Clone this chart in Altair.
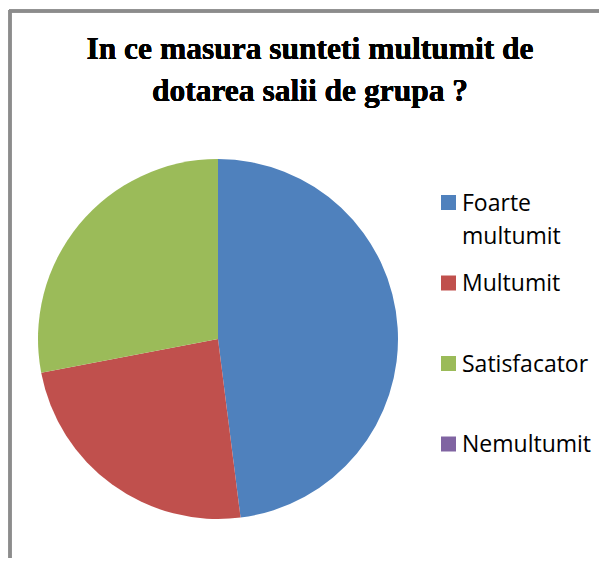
import altair as alt
import pandas as pd

categories = ["Foarte multumit", "Multumit", "Satisfacator", "Nemultumit"]
legend_labels = ["Foarte\nmultumit", "Multumit", "Satisfacator", "Nemultumit"]
values = [12, 6, 7, 0]
colors = ["#4F81BD", "#C0504D", "#9BBB59", "#8064A2"]
title_lines = ["In ce masura sunteti multumit de", "dotarea salii de grupa ?"]

df = pd.DataFrame({
    "cat": categories,
    "lab": legend_labels,
    "val": values,
    "ord": list(range(len(categories))),
})

W, H = 591, 550

color_scale = alt.Scale(domain=categories, range=colors)
legend_y = alt.Y(
    "cat:N",
    scale=alt.Scale(type="point", domain=categories, range=[194.5, 436], padding=0),
    axis=None,
)

pie = alt.Chart(df).mark_arc(outerRadius=180, stroke=None).encode(
    theta=alt.Theta("val:Q", stack=True),
    order=alt.Order("ord:Q"),
    color=alt.Color("cat:N", scale=color_scale, legend=None),
    x=alt.value(210),
    y=alt.value(331),
)

swatches = alt.Chart(df).mark_square(size=225, opacity=1, strokeWidth=0).encode(
    x=alt.value(440.5),
    y=legend_y,
    color=alt.Color("cat:N", scale=color_scale, legend=None),
)

labels = alt.Chart(df).mark_text(
    font="Open Sans",
    fontSize=23,
    color="#000000",
    align="left",
    baseline="alphabetic",
    dy=8,
    lineBreak="\n",
    lineHeight=33.5,
).encode(
    x=alt.value(454),
    y=legend_y,
    text="lab:N",
)

title = alt.Chart(df).mark_text(
    font="Liberation Serif",
    fontSize=31.5,
    fontWeight="bold",
    color="#000000",
    align="center",
    baseline="alphabetic",
    lineHeight=42,
).encode(
    text=alt.value(title_lines),
    x=alt.value(302),
    y=alt.value(51),
)

frame_top = alt.Chart(df).mark_rule(color="#8c8c8c", strokeWidth=3).encode(
    x=alt.value(1), x2=alt.value(W), y=alt.value(3)
)
frame_left = alt.Chart(df).mark_rule(color="#8c8c8c", strokeWidth=3).encode(
    x=alt.value(2), y=alt.value(2), y2=alt.value(H)
)

chart = alt.layer(frame_top, frame_left, title, pie, swatches, labels).properties(
    width=W,
    height=H,
    padding=0,
    autosize=alt.AutoSizeParams(type="none"),
).configure_view(stroke=None)

chart.save("out.html", embed_options={"renderer": "svg", "actions": False})
